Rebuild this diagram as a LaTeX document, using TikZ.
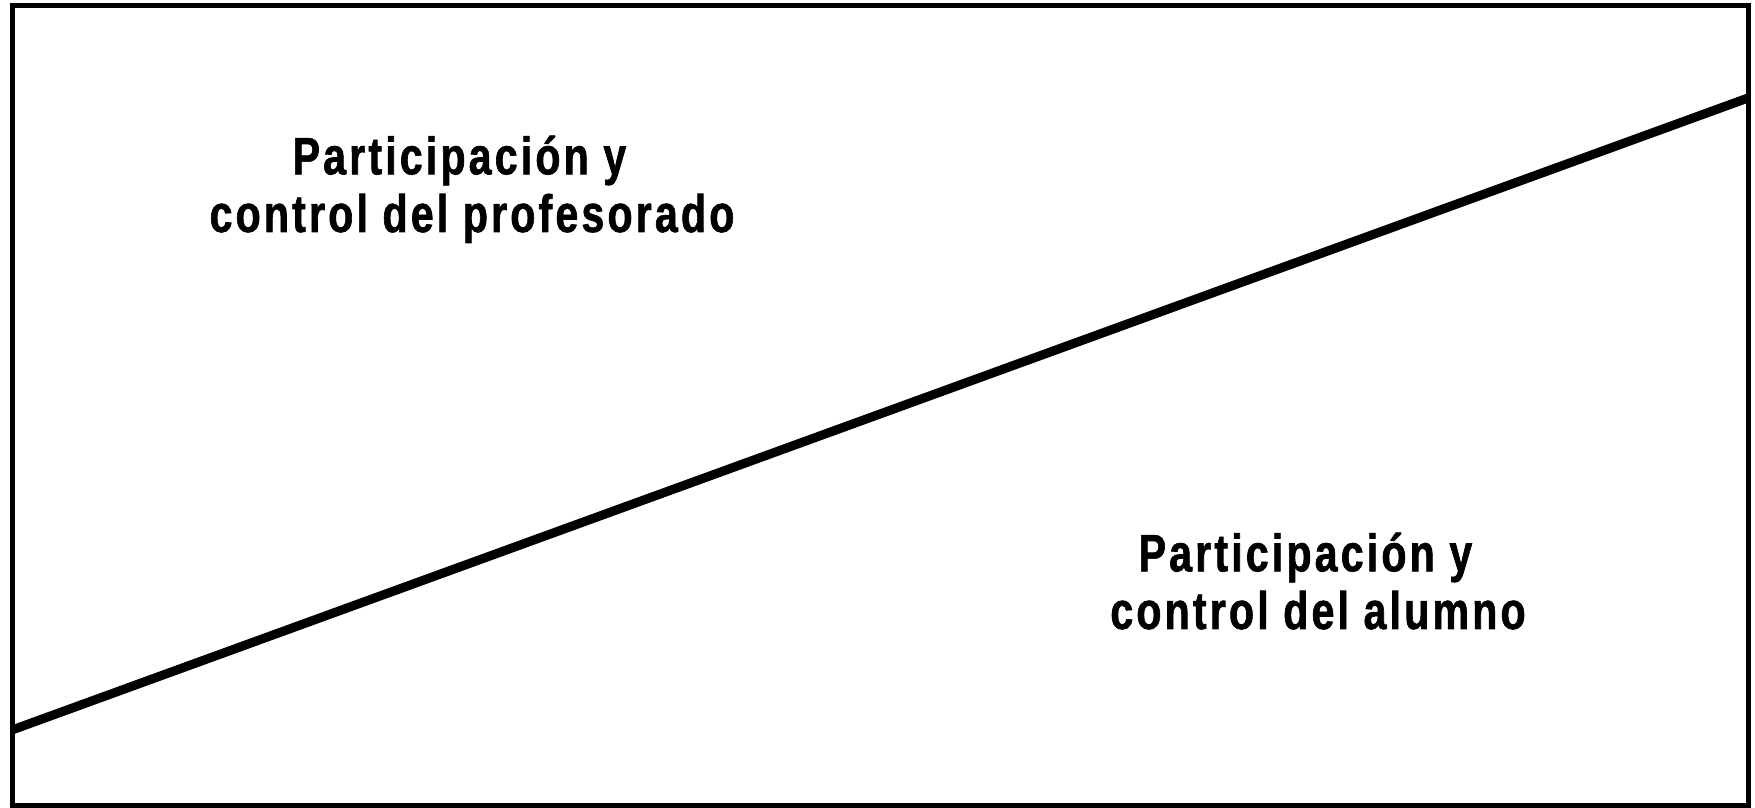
\documentclass[tikz,border=0pt]{standalone}
\usepackage{fontspec}
\setmainfont{Liberation Sans}[FakeStretch=0.78,LetterSpace=6,BoldFeatures={FakeBold=1.2}]
\usepackage{tikz}
\tikzstyle{frame}=[draw,line width=0.5mm]
\tikzstyle{split}=[draw,line width=0.9mm]
\tikzstyle{label}=[align=center,inner sep=0pt,font=\bfseries\fontsize{15}{16.4}\selectfont]

\begin{document}
\begin{tikzpicture}[x=0.1mm,y=-0.1mm]
  \useasboundingbox (0,0) rectangle (1755,808);
  \draw[frame] (12.5,5.5) rectangle (1748.5,805.5);
  \coordinate (low) at (12,730);
  \coordinate (high) at (1748,98);
  \draw[split] (low) -- (high);
  \node[label,anchor=base] (prof) at (472,232) {Participación y\phantom{n}\\control del profesorado};
  \node[label,anchor=base] (alum) at (1318,629) {Participación y\phantom{n}\\control del alumno};
\end{tikzpicture}
\end{document}
